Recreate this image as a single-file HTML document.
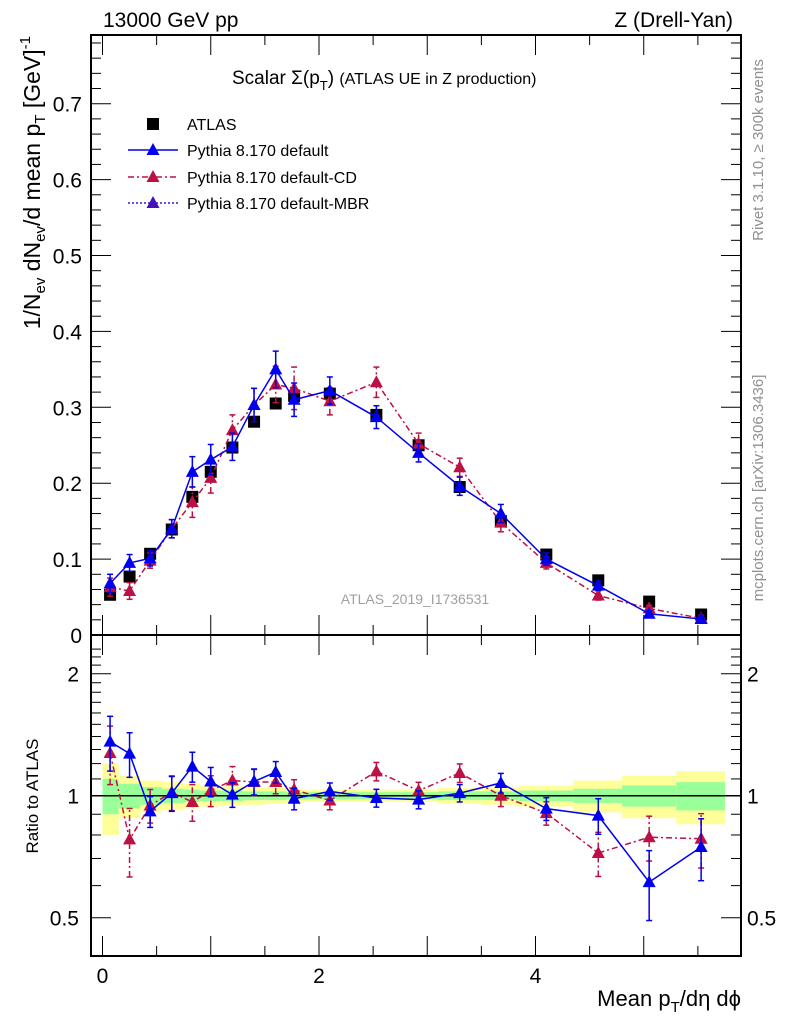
<!DOCTYPE html>
<html><head><meta charset="utf-8">
<style>
body{margin:0;background:#fff;}
svg{display:block;font-family:"Liberation Sans",sans-serif;}
</style></head>
<body>
<svg id="c" width="786" height="1024" viewBox="0 0 786 1024" xmlns="http://www.w3.org/2000/svg"></svg>
<script>
const xs=[0.07,0.25,0.44,0.64,0.83,1.0,1.2,1.4,1.6,1.77,2.1,2.53,2.92,3.3,3.68,4.1,4.58,5.05,5.53];
const atlas=[0.053,0.077,0.107,0.139,0.182,0.215,0.247,0.281,0.305,0.315,0.318,0.290,0.250,0.195,0.150,0.106,0.072,0.044,0.027];
const pyDef=[0.068,0.095,0.101,0.140,0.215,0.231,0.248,0.303,0.350,0.310,0.322,0.287,0.240,0.196,0.160,0.100,0.065,0.028,0.021];
const pyCD=[0.063,0.058,0.098,0.140,0.175,0.207,0.270,0.303,0.330,0.325,0.308,0.333,0.252,0.221,0.148,0.095,0.052,0.035,0.022];
const errDef=[0.012,0.011,0.010,0.012,0.020,0.020,0.018,0.022,0.024,0.022,0.018,0.015,0.012,0.012,0.012,0.008,0.006,0.004,0.004];
const errCD=[0.012,0.011,0.010,0.012,0.020,0.020,0.020,0.022,0.024,0.028,0.018,0.020,0.014,0.012,0.012,0.008,0.006,0.004,0.004];
const rDef=[1.36,1.27,0.915,1.015,1.18,1.084,1.006,1.084,1.144,0.983,1.025,0.987,0.978,1.015,1.075,0.929,0.893,0.612,0.747];
const rCD=[1.275,0.78,0.946,1.019,0.965,1.03,1.09,1.081,1.081,1.035,0.973,1.148,1.029,1.138,1.0,0.906,0.722,0.79,0.783];
const rErrDef=[0.21,0.16,0.08,0.10,0.10,0.09,0.07,0.08,0.07,0.06,0.05,0.05,0.05,0.05,0.06,0.06,0.09,0.12,0.13];
const rErrCD=[0.21,0.15,0.09,0.10,0.10,0.09,0.09,0.08,0.07,0.06,0.05,0.06,0.05,0.06,0.06,0.06,0.09,0.10,0.12];
const binEdges=[0,0.15,0.35,0.55,0.75,0.9,1.1,1.3,1.5,1.7,1.85,2.3,2.75,3.1,3.5,3.85,4.35,4.8,5.3,5.75];
const bandGreen=[0.10,0.07,0.05,0.04,0.035,0.03,0.03,0.025,0.025,0.02,0.02,0.02,0.02,0.025,0.025,0.03,0.04,0.06,0.08];
const bandYellow=[0.20,0.12,0.09,0.08,0.07,0.06,0.055,0.05,0.045,0.04,0.035,0.035,0.035,0.045,0.05,0.06,0.09,0.12,0.15];
const yTicks=[0,0.1,0.2,0.3,0.4,0.5,0.6,0.7];
const xTickLabels=[0,2,4];
const rTickLabels=[0.5,1,2];

const S=document.getElementById('c');const NS='http://www.w3.org/2000/svg';
function el(t,a,p){const e=document.createElementNS(NS,t);for(const k in a)e.setAttribute(k,a[k]);(p||S).appendChild(e);return e;}
const L=91,R=741,T=35,MB=635,RT=635,RB=956;
const X=v=>102.5+v*108.25;
const Y=v=>MB-v*759;
const RY=v=>795.7-122*Math.log2(v);

for(let i=0;i<bandGreen.length;i++){
 const x1=X(binEdges[i]),x2=X(binEdges[i+1]);
 let r=el('rect',{x:x1,y:RY(1+bandYellow[i]),width:x2-x1,height:RY(1-bandYellow[i])-RY(1+bandYellow[i]),fill:'#ffff99'});
 
 
 r=el('rect',{x:x1,y:RY(1+bandGreen[i]),width:x2-x1,height:RY(1-bandGreen[i])-RY(1+bandGreen[i]),fill:'#99ff99'});
 
 
}
el('line',{x1:L,x2:R,y1:RY(1),y2:RY(1),stroke:'#000','stroke-width':1.5});

el('rect',{x:L,y:T,width:R-L,height:MB-T,fill:'none',stroke:'#000','stroke-width':2});
el('rect',{x:L,y:RT,width:R-L,height:RB-RT,fill:'none',stroke:'#000','stroke-width':2});

for(let v=0;v<=5.75;v+=0.5){
 const big=(Math.abs(v-Math.round(v))<1e-6);const len=big?20:10;
 el('line',{x1:X(v),x2:X(v),y1:MB,y2:MB-len,stroke:'#000'});
 el('line',{x1:X(v),x2:X(v),y1:T,y2:T+len,stroke:'#000'});
 el('line',{x1:X(v),x2:X(v),y1:RB,y2:RB-len,stroke:'#000'});
 el('line',{x1:X(v),x2:X(v),y1:RT,y2:RT+len,stroke:'#000'});
}
xTickLabels.forEach(v=>{const t=el('text',{x:X(v),y:983,'font-size':21,'text-anchor':'middle'});t.textContent=v;
 
 });
for(let i=0;i<=39;i++){const v=i*0.02;if(Y(v)<T)break;const big=i%5==0;const len=big?20:10;
 el('line',{x1:L,x2:L+len,y1:Y(v),y2:Y(v),stroke:'#000'});
 el('line',{x1:R,x2:R-len,y1:Y(v),y2:Y(v),stroke:'#000'});}
yTicks.forEach(v=>{const t=el('text',{x:82,y:Y(v)+8,'font-size':21,'text-anchor':'end'});t.textContent=v;
 
 });
[0.5,0.6,0.7,0.8,0.9,1,1.1,1.2,1.3,1.4,1.5,1.6,1.7,1.8,1.9,2,2.1,2.2,2.3].forEach(v=>{const y=RY(v);if(y<RT+2)return;
 const big=[0.5,1,2].includes(v);const len=big?20:10;
 el('line',{x1:L,x2:L+len,y1:y,y2:y,stroke:'#000'});el('line',{x1:R,x2:R-len,y1:y,y2:y,stroke:'#000'});});
rTickLabels.forEach(v=>{let t=el('text',{x:79,y:RY(v)+8,'font-size':21,'text-anchor':'end'});t.textContent=v;
 
 
 t=el('text',{x:747,y:RY(v)+8,'font-size':21});t.textContent=v;
 
 });

function tri(x,y,c){return el('path',{d:`M${x},${y-7}L${x+6.5},${y+5}L${x-6.5},${y+5}Z`,fill:c});}
function series(vals,errs,yf,c,dash,nm){
 const g=el('g',{});
 
 
 el('polyline',{points:xs.map((x,i)=>X(x)+','+yf(vals[i])).join(' '),fill:'none',stroke:c,'stroke-width':1.5,'stroke-dasharray':dash},g);
 xs.forEach((x,i)=>{const lo=vals[i]-errs[i],hi=vals[i]+errs[i];
  el('line',{x1:X(x),x2:X(x),y1:yf(lo),y2:yf(hi),stroke:c,'stroke-width':1.5,'stroke-dasharray':dash},g);
  el('line',{x1:X(x)-3,x2:X(x)+3,y1:yf(lo),y2:yf(lo),stroke:c,'stroke-width':1.5},g);
  el('line',{x1:X(x)-3,x2:X(x)+3,y1:yf(hi),y2:yf(hi),stroke:c,'stroke-width':1.5},g);
  const t=tri(X(x),yf(vals[i]),c);g.appendChild(t);
  
  });
}
xs.forEach((x,i)=>{const r=el('rect',{x:X(x)-6,y:Y(atlas[i])-6,width:12,height:12,fill:'#000'});
 
 });
series(pyCD,errCD,Y,'#bb1144','6,3,2,3','cd-series');
series(pyDef,errDef,Y,'#0000ee','','default-series');
series(rCD,rErrCD,RY,'#bb1144','6,3,2,3','cd-ratio');
series(rDef,rErrDef,RY,'#0000ee','','default-ratio');
</script>
<svg width="786" height="1024" style="position:absolute;left:0;top:0" font-family="Liberation Sans, sans-serif">
<text x="103" y="27" font-size="21">13000 GeV pp</text>
<text x="733" y="27" font-size="21" text-anchor="end">Z (Drell-Yan)</text>
<text x="232" y="84" font-size="19">Scalar Σ(p<tspan font-size="13" dy="6">T</tspan><tspan dy="-6">) </tspan><tspan font-size="16">(ATLAS UE in Z production)</tspan></text>
<g>
<rect x="147" y="118" width="12" height="12" fill="#000"/>
<text x="187" y="130" font-size="16">ATLAS</text>
<line x1="128" x2="178" y1="150" y2="150" stroke="#0000ee" stroke-width="1.5"/>
<path d="M153,143L159.5,155L146.5,155Z" fill="#0000ee"/>
<text x="187" y="156" font-size="16">Pythia 8.170 default</text>
<line x1="128" x2="178" y1="177" y2="177" stroke="#bb1144" stroke-width="1.5" stroke-dasharray="6,3,2,3"/>
<path d="M153,170L159.5,182L146.5,182Z" fill="#bb1144"/>
<text x="187" y="183" font-size="16">Pythia 8.170 default-CD</text>
<line x1="128" x2="178" y1="203" y2="203" stroke="#4411cc" stroke-width="1.5" stroke-dasharray="2,2"/>
<path d="M153,196L159.5,208L146.5,208Z" fill="#4411bb"/>
<text x="187" y="209" font-size="16">Pythia 8.170 default-MBR</text>
</g>
<text x="415" y="604" font-size="14" fill="#a0a0a0" text-anchor="middle">ATLAS_2019_I1736531</text>
<text transform="translate(40,36) rotate(-90)" font-size="23" text-anchor="end">1/N<tspan font-size="15" dy="5">ev</tspan><tspan dy="-5"> dN</tspan><tspan font-size="15" dy="5">ev</tspan><tspan dy="-5">/d mean p</tspan><tspan font-size="15" dy="5">T</tspan><tspan dy="-5">  [GeV]</tspan><tspan font-size="15" dy="-10">-1</tspan></text>
<text transform="translate(38,796) rotate(-90)" font-size="17" text-anchor="middle">Ratio to ATLAS</text>
<text x="741" y="1006" font-size="22" text-anchor="end">Mean p<tspan font-size="15" dy="6">T</tspan><tspan dy="-6">/dη dϕ</tspan></text>
<text transform="translate(763,150) rotate(-90)" font-size="15" fill="#909090" text-anchor="middle">Rivet 3.1.10, ≥ 300k events</text>
<text transform="translate(763,488) rotate(-90)" font-size="15" fill="#909090" text-anchor="middle">mcplots.cern.ch [arXiv:1306.3436]</text>
</svg>
</body></html>
